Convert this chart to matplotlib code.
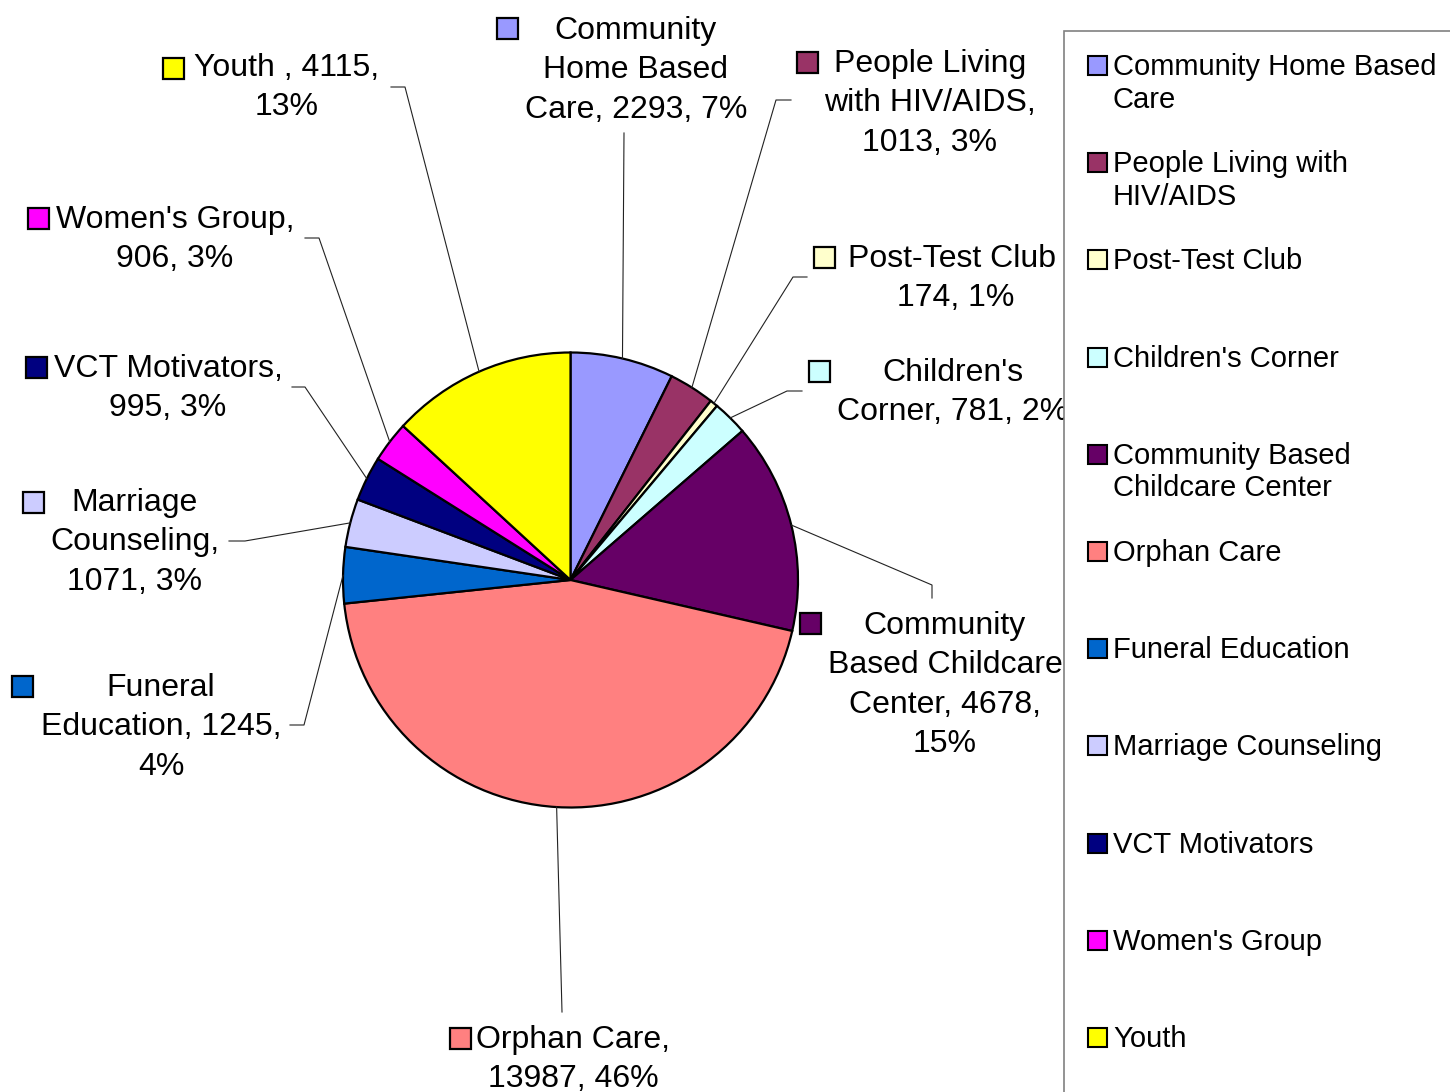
import textwrap
import numpy as np
import matplotlib
matplotlib.use("Agg")
import matplotlib.pyplot as plt
from matplotlib.patches import Rectangle
from matplotlib.transforms import Bbox, TransformedBbox

plt.rcParams['font.family'] = ['Liberation Sans', 'DejaVu Sans']

# ---- data -------------------------------------------------------------
categories = ["Community Home Based Care", "People Living with HIV/AIDS",
              "Post-Test Club", "Children's Corner",
              "Community Based Childcare Center", "Orphan Care",
              "Funeral Education", "Marriage Counseling", "VCT Motivators",
              "Women's Group", "Youth "]
values = [2293, 1013, 174, 781, 4678, 13987, 1245, 1071, 995, 906, 4115]
pct_labels = ["7%", "3%", "1%", "2%", "15%", "46%", "4%", "3%", "3%", "3%", "13%"]
colors = ["#9999FF", "#993366", "#FFFFCC", "#CCFFFF", "#660066", "#FF8080",
          "#0066CC", "#CCCCFF", "#000080", "#FF00FF", "#FFFF00"]

# ---- layout (pixel units, origin top-left) ----------------------------
W, H = 1450, 1092
PIE_CX, PIE_CY, PIE_R = 570.5, 580, 227.5

# cumulative word counts at which each data label wraps
label_breaks = [[1, 3], [2, 4], [2], [1], [1, 3, 5], [2], [1, 3], [1, 2], [2], [2], [3]]
# centre x and first baseline y for each data label
label_pos = [(636, 39), (930, 72), (956, 267), (953, 381), (945, 634),
             (573, 1048), (161, 696), (135, 511), (168, 377), (175, 228), (287, 76)]
# top-left of the colour key beside each data label
key_pos = [(497, 18), (797, 52), (814, 247), (809, 361), (800, 613),
           (450, 1028), (12, 676), (23, 492), (26, 357), (28, 208), (163, 58)]
# leader line bends/ends, going outward from the pie edge
leader_pts = [[(624, 133)],
              [(776, 100), (791, 100)],
              [(793, 277), (807, 277)],
              [(787, 391), (802, 391)],
              [(932, 585), (932, 598)],
              [(562, 1012)],
              [(304, 725), (290, 725)],
              [(245, 541), (229, 541)],
              [(305, 387), (292, 387)],
              [(319, 238), (305, 238)],
              [(405, 87), (391, 87)]]
# right edge of the box a data label is confined to
label_clip_right = [None, None, 1055, None, None, None, None, None, None, None, None]

LINE_GAP = 39.4
KEY = 21
LABEL_FS = 23
LEGEND_FS = 21


def py(y):
    return H - y


fig = plt.figure(figsize=(W / 100, H / 100), dpi=100)
ax = fig.add_axes([0, 0, 1, 1])

ax.pie(values, colors=colors, startangle=90, counterclock=False,
       center=(PIE_CX, py(PIE_CY)), radius=PIE_R,
       wedgeprops=dict(edgecolor="black", linewidth=1.6))
ax.set_xlim(0, W)
ax.set_ylim(0, H)
ax.set_aspect("equal")
ax.axis("off")

total = float(sum(values))
cum = np.concatenate([[0], np.cumsum(values)[:-1]])

for i, name in enumerate(categories):
    # leader line from the wedge's mid-angle on the rim
    frac = (cum[i] + values[i] / 2) / total
    ang = np.deg2rad(90 - 360 * frac)
    sx = PIE_CX + PIE_R * np.cos(ang)
    sy = py(PIE_CY) + PIE_R * np.sin(ang)
    xs = [sx] + [p[0] for p in leader_pts[i]]
    ys = [sy] + [py(p[1]) for p in leader_pts[i]]
    ax.plot(xs, ys, color="#222222", lw=0.8, zorder=1)

    # data label text, wrapped
    words = f"{name}, {values[i]}, {pct_labels[i]}".split(" ")
    cuts = [0] + label_breaks[i] + [len(words)]
    lines = [" ".join(words[a:b]) for a, b in zip(cuts[:-1], cuts[1:])]
    cx, by = label_pos[i]
    for k, line in enumerate(lines):
        t = ax.text(cx, py(by + k * LINE_GAP), line, ha="center", va="baseline",
                    fontsize=LABEL_FS, color="black", zorder=3)
        if label_clip_right[i] is not None:
            box = TransformedBbox(Bbox.from_extents(0, 0, label_clip_right[i], H),
                                  ax.transData)
            t.set_clip_box(box)
            t.set_clip_on(True)

    kx, ky = key_pos[i]
    ax.add_patch(Rectangle((kx, py(ky + KEY)), KEY, KEY, facecolor=colors[i],
                           edgecolor="black", lw=1.6, zorder=3))

# ---- legend -------------------------------------------------------------
ax.add_patch(Rectangle((1064, py(1100)), 420, 1100 - 31, facecolor="white",
                       edgecolor="#808080", lw=1.2, zorder=5, clip_on=False))
LEG_TOP, LEG_STEP, LEG_LINE = 75, 97.2, 32.5
for i, name in enumerate(categories):
    base = LEG_TOP + i * LEG_STEP
    ax.add_patch(Rectangle((1088, py(base)), 19, 19, facecolor=colors[i],
                           edgecolor="black", lw=1.5, zorder=6))
    for k, line in enumerate(textwrap.wrap(name.strip(), width=20)):
        ax.text(1113, py(base + k * LEG_LINE), line, ha="left", va="baseline",
                fontsize=LEGEND_FS, color="black", zorder=6)

fig.savefig("out.png", dpi=100, facecolor="white")
